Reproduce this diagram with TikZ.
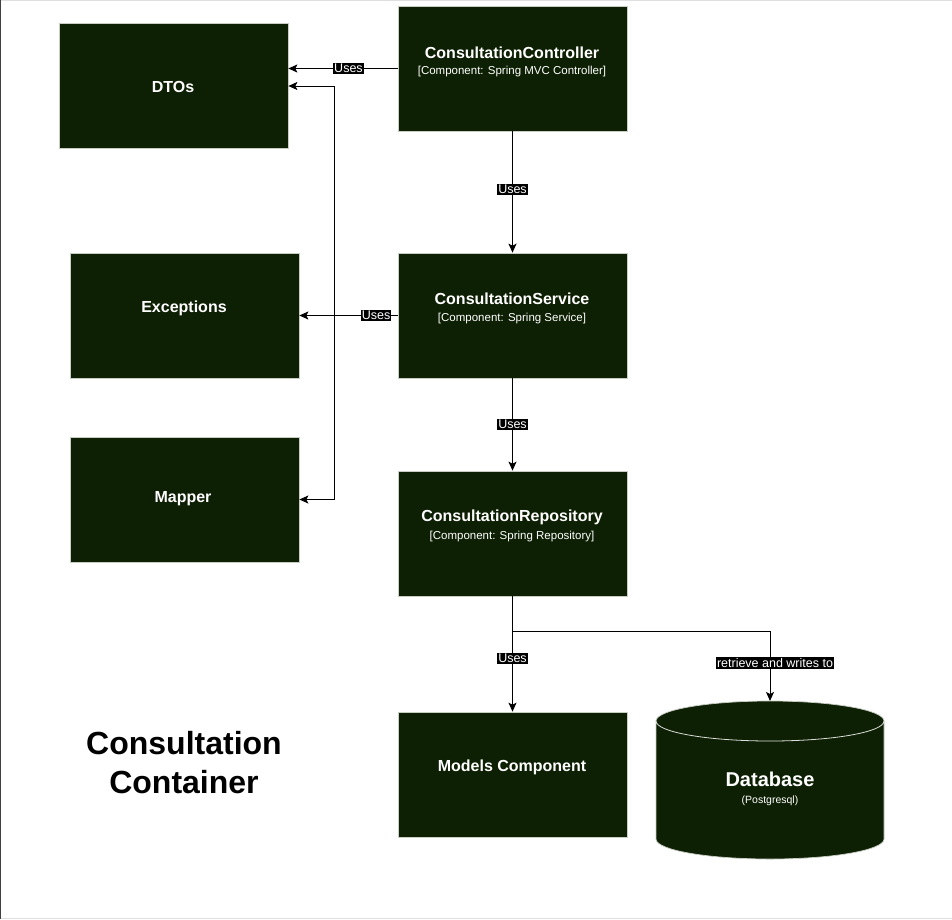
\documentclass[tikz,border=0pt]{standalone}
\usepackage{fontspec}
\setmainfont{Liberation Sans}
\usetikzlibrary{arrows.meta}
\definecolor{boxfill}{RGB}{14,32,4}
\definecolor{boxline}{RGB}{200,206,196}
\begin{document}
\begin{tikzpicture}[x=1pt,y=1pt,
  comp/.style={draw=boxline, line width=0.7pt, fill=boxfill, minimum width=229pt, minimum height=125pt, inner sep=0pt},
  ttl/.style={text=white, font=\bfseries\fontsize{16}{19}\selectfont, inner sep=0pt},
  subt/.style={text=white, font=\fontsize{11.5}{13}\selectfont, inner sep=0pt},
  lbl/.style={fill=black, text=white, font=\fontsize{12.5}{14}\selectfont, inner sep=1.2pt},
  conn/.style={draw=black, line width=1pt, -{Stealth[length=9pt,width=8pt,inset=2pt]}}]

\useasboundingbox (0,0) rectangle (952,-919);
\fill[white] (0,0) rectangle (952,-919);
\draw[gray!25, line width=1pt] (0,-0.5) -- (952,-0.5);
\draw[gray!25, line width=1pt] (0,-918.5) -- (952,-918.5);
\draw[black!75, line width=1.2pt] (0.6,0) -- (0.6,-919);

% components
\node[comp] (ctrl) at (512.5,-68.5) {};
\node[comp] (dtos) at (173.5,-86) {};
\node[comp] (exc) at (184.5,-315.5) {};
\node[comp] (srv) at (512.5,-315.5) {};
\node[comp] (map) at (184.5,-499.5) {};
\node[comp] (repo) at (512.5,-533.5) {};
\node[comp] (models) at (512.5,-774.5) {};

% database cylinder
\node[minimum width=228pt, minimum height=158pt, inner sep=0pt] (db) at (770,-780) {};
\path[fill=boxfill, draw=boxline, line width=0.7pt] (656,-721) -- (656,-839)
  arc[start angle=180, end angle=360, x radius=114pt, y radius=20pt] -- (884,-721)
  arc[start angle=0, end angle=180, x radius=114pt, y radius=20pt] -- cycle;
\draw[white!85!boxfill, line width=0.8pt] (656,-721) arc[start angle=180, end angle=360, x radius=114pt, y radius=20pt];
\coordinate (dbtop) at (770,-701);

% texts
\node[ttl] (ctrlT) at (512,-53) {ConsultationController};
\node[subt] (ctrlS) at (512,-72) {[Component: Spring MVC Controller]};
\node[ttl] (srvT) at (512,-299) {ConsultationService};
\node[subt] (srvS) at (512,-319) {[Component: Spring Service]};
\node[ttl] (repoT) at (512,-517) {ConsultationRepository};
\node[subt] (repoS) at (512,-537) {[Component: Spring Repository]};
\node[ttl] (dtosT) at (173,-87) {DTOs};
\node[ttl] (excT) at (184,-308) {Exceptions};
\node[ttl] (mapT) at (183,-499) {Mapper};
\node[ttl] (modelsT) at (512,-767) {Models Component};
\node[text=white, font=\bfseries\fontsize{20}{24}\selectfont, inner sep=0pt] (dbT) at (770,-779) {Database};
\node[subt, font=\fontsize{10.5}{12}\selectfont] (dbS) at (770,-801) {(Postgresql)};
\node[text=black, align=center, font=\bfseries\fontsize{32}{39}\selectfont, inner sep=0pt] (cont) at (184,-763) {Consultation\\Container};

% connectors
\coordinate (split) at (334,-315.5);
\draw[conn] (srv.west) -- (split) |- (dtos.east);
\draw[conn] (split) |- (map.east);
\draw[conn] (srv.west) -- node[lbl,pos=0.22]{Uses} (exc.east);
\draw[conn] (ctrl.west) -- node[lbl,pos=0.45]{Uses} (ctrl.west -| dtos.east);
\draw[conn] (ctrl.south) -- node[lbl,pos=0.48]{Uses} (srv.north);
\draw[conn] (srv.south) -- node[lbl]{Uses} (repo.north);
\draw[conn] (repo.south) -- node[lbl,pos=0.54]{Uses} (models.north);
\coordinate (rsplit) at (512.5,-631);
\draw[conn] (repo.south) -- (rsplit) -| node[lbl,pos=0.73,xshift=5pt]{retrieve and writes to} (dbtop);
\end{tikzpicture}
\end{document}
